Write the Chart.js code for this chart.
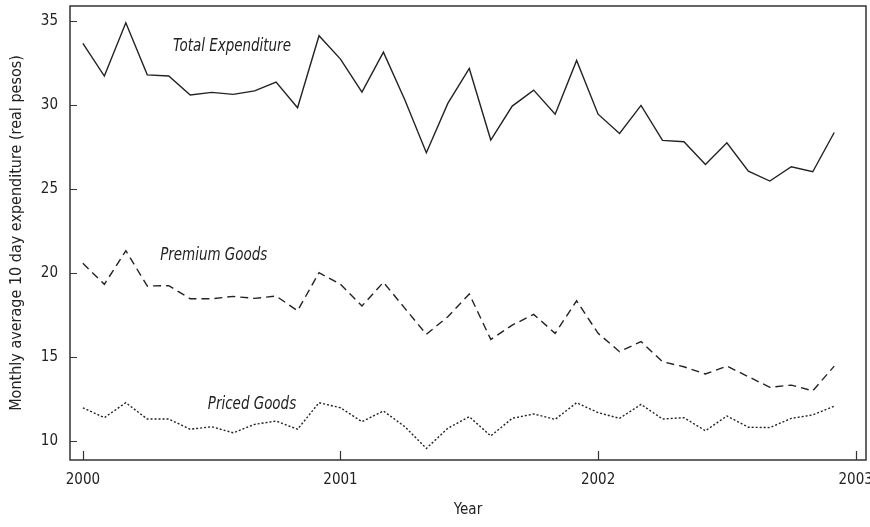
<!DOCTYPE html>
<html>
<head>
<meta charset="utf-8">
<script src="https://cdn.jsdelivr.net/npm/chart.js@4/dist/chart.umd.min.js"></script>
<style>
  html, body { margin: 0; padding: 0; background: #fff; }
  #wrap { width: 870px; height: 527px; }
</style>
</head>
<body>
<div id="wrap"><canvas id="chart" width="870" height="527"></canvas></div>
<script>
const FONT = "'DejaVu Sans Condensed', 'Liberation Sans Narrow', sans-serif";
const INK  = "#222";

// monthly observations, Jan 2000 .. Dec 2002
const startYear = 2000;
const yearTicks = [2000, 2001, 2002, 2003];
const valueTicks = [10, 15, 20, 25, 30, 35];

const totalExp = [33.67, 31.73, 34.9, 31.8, 31.73, 30.6, 30.76, 30.64, 30.85, 31.37, 29.84, 34.13,
                  32.74, 30.77, 33.15, 30.3, 27.16, 30.1, 32.18, 27.92, 29.94, 30.89, 29.46, 32.66,
                  29.46, 28.31, 29.98, 27.9, 27.82, 26.47, 27.76, 26.07, 25.48, 26.33, 26.03, 28.37];
const premium  = [20.58, 19.33, 21.33, 19.23, 19.25, 18.47, 18.47, 18.61, 18.49, 18.63, 17.76, 20.02,
                  19.33, 18.04, 19.45, 17.9, 16.35, 17.4, 18.75, 16.05, 16.9, 17.54, 16.41, 18.35,
                  16.41, 15.32, 15.92, 14.72, 14.42, 13.99, 14.46, 13.83, 13.2, 13.33, 12.99, 14.46];
const priced   = [11.98, 11.39, 12.28, 11.31, 11.31, 10.7, 10.85, 10.49, 10.99, 11.19, 10.7, 12.28,
                  11.98, 11.15, 11.79, 10.85, 9.56, 10.76, 11.45, 10.3, 11.35, 11.61, 11.29, 12.28,
                  11.69, 11.35, 12.18, 11.31, 11.39, 10.61, 11.49, 10.82, 10.8, 11.35, 11.55, 12.08];

// series labels placed in data coordinates
const seriesLabels = [
  { text: "Total Expenditure", x: 2000.35, y: 33.5 },
  { text: "Premium Goods",     x: 2000.30, y: 21.07 },
  { text: "Priced Goods",      x: 2000.485, y: 12.14 },
];

const toPoints = arr => arr.map((v, i) => ({ x: startYear + i / 12, y: v }));

const frame = {
  id: "frame",
  afterDraw(chart) {
    const { ctx, chartArea: a, scales: { x, y } } = chart;
    ctx.save();
    ctx.strokeStyle = "#333";
    ctx.lineWidth = 1.5;
    ctx.strokeRect(a.left, a.top, a.right - a.left, a.bottom - a.top);
    ctx.lineWidth = 1.2;
    ctx.beginPath();
    y.ticks.forEach(t => {
      const py = Math.round(y.getPixelForValue(t.value)) + 0.5;
      ctx.moveTo(a.left, py); ctx.lineTo(a.left + 7, py);
    });
    x.ticks.forEach(t => {
      const px = Math.round(x.getPixelForValue(t.value)) + 0.5;
      ctx.moveTo(px, a.bottom); ctx.lineTo(px, a.bottom - 9);
    });
    ctx.stroke();

    ctx.fillStyle = INK;
    ctx.font = "italic 17px " + FONT;
    ctx.textBaseline = "middle";
    ctx.textAlign = "left";
    seriesLabels.forEach(l => {
      const px = x.getPixelForValue(l.x), py = y.getPixelForValue(l.y);
      ctx.save();
      ctx.translate(px, py);
      ctx.scale(0.88, 1);
      ctx.fillText(l.text, 0, 0);
      ctx.restore();
    });
    ctx.restore();
  }
};

const lineStyle = dash => ({
  borderColor: INK, borderWidth: 1.4, borderDash: dash,
  pointRadius: 0, tension: 0, fill: false,
});

new Chart(document.getElementById("chart"), {
  type: "line",
  data: {
    datasets: [
      { label: "Total Expenditure", data: toPoints(totalExp), ...lineStyle([]) },
      { label: "Premium Goods",     data: toPoints(premium),  ...lineStyle([8, 5]) },
      { label: "Priced Goods",      data: toPoints(priced),   ...lineStyle([2, 2]) },
    ],
  },
  options: {
    responsive: false,
    animation: false,
    layout: { padding: { top: 6, right: 4, left: 0, bottom: 0 } },
    plugins: { legend: { display: false }, tooltip: { enabled: false } },
    scales: {
      x: {
        type: "linear", min: 1999.95, max: 2003.04,
        afterBuildTicks: s => { s.ticks = yearTicks.map(v => ({ value: v })); },
        afterFit: s => { s.height = 67; s.paddingLeft = 0; s.paddingRight = 0; },
        grid: { display: false, drawTicks: false },
        border: { display: false },
        ticks: { color: INK, padding: 11, font: { family: FONT, size: 15 }, maxRotation: 0, callback: v => String(v) },
        title: { display: true, text: "Year", color: INK, font: { family: FONT, size: 15 }, padding: { top: 0, bottom: 8 } },
      },
      y: {
        min: 8.87, max: 35.9,
        afterBuildTicks: s => { s.ticks = valueTicks.map(v => ({ value: v })); },
        afterFit: s => { s.width = 70; s.paddingTop = 0; s.paddingBottom = 0; },
        grid: { display: false, drawTicks: false },
        border: { display: false },
        ticks: { color: INK, padding: 12, font: { family: FONT, size: 15 } },
        title: { display: true, text: "Monthly average 10 day expenditure (real pesos)", color: INK,
                 font: { family: FONT, size: 16 }, padding: { top: 7, bottom: 0 } },
      },
    },
  },
  plugins: [frame],
});
</script>
</body>
</html>
